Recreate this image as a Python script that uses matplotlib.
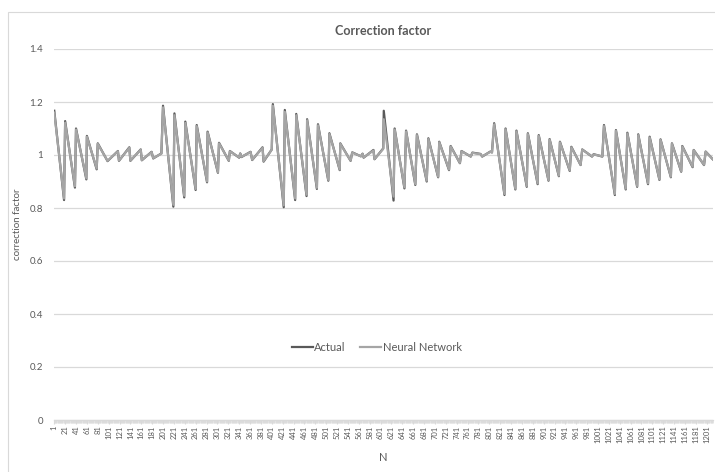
import matplotlib
matplotlib.use('Agg')
import matplotlib.pyplot as plt
from matplotlib.ticker import MultipleLocator
from matplotlib.patches import Rectangle

plt.rcParams.update({'font.family': ['Lato', 'DejaVu Sans'], 'font.size': 8})

# sample index of each turning point of the sawtooth (values between are straight runs)
n_points = [
    1, 19, 21, 39, 41, 60, 61, 79, 81, 99, 118, 120, 139, 141, 160, 162, 180, 183, 198,
    201, 220, 222, 240, 242, 261, 263, 282, 283, 302, 304, 322, 324, 341, 343, 345, 362, 365, 384, 386, 401,
    403, 423, 425, 444, 446, 465, 466, 484, 486, 505, 507, 526, 527, 546, 549, 565, 568, 570, 588, 590, 606,
    607, 625, 627, 645, 648, 665, 668, 686, 689, 707, 709, 727, 730, 747, 750, 767, 770, 785, 788, 803, 806,
    810, 829, 831, 849, 851, 870, 872, 890, 892, 910, 912, 929, 931, 949, 952, 969, 972, 990, 993, 1009,
    1012, 1032, 1034, 1052, 1055, 1073, 1075, 1093, 1096, 1114, 1116, 1135, 1137, 1154, 1156, 1175, 1177,
    1196, 1199, 1212,
]

actual = [
    1.167, 0.830, 1.128, 0.877, 1.100, 0.908, 1.072, 0.946, 1.044, 0.977, 1.015, 0.978, 1.029, 0.978, 1.021, 0.980, 1.012, 0.987, 1.006,
    1.186, 0.805, 1.157, 0.840, 1.126, 0.868, 1.113, 0.897, 1.088, 0.933, 1.046, 0.978, 1.015, 0.990, 1.006, 0.992, 1.012, 0.981, 1.029, 0.975, 1.021,
    1.192, 0.803, 1.170, 0.830, 1.155, 0.845, 1.135, 0.872, 1.116, 0.903, 1.082, 0.943, 1.044, 0.978, 1.010, 0.995, 1.005, 0.990, 1.019, 0.984, 1.025,
    1.167, 0.828, 1.100, 0.874, 1.092, 0.887, 1.078, 0.900, 1.063, 0.916, 1.050, 0.943, 1.034, 0.969, 1.015, 0.994, 1.009, 1.004, 0.994, 1.013, 1.010,
    1.120, 0.849, 1.100, 0.870, 1.092, 0.880, 1.082, 0.890, 1.075, 0.903, 1.060, 0.920, 1.050, 0.940, 1.031, 0.962, 1.021, 0.994, 1.003, 0.994,
    1.113, 0.849, 1.094, 0.870, 1.084, 0.880, 1.078, 0.890, 1.069, 0.906, 1.059, 0.916, 1.044, 0.937, 1.034, 0.954, 1.019,
    0.962, 1.013, 0.984,
]

neural = [
    1.160, 0.836, 1.122, 0.882, 1.096, 0.912, 1.069, 0.949, 1.042, 0.978, 1.014, 0.979, 1.027, 0.979, 1.020, 0.981, 1.011, 0.988, 1.005,
    1.180, 0.812, 1.150, 0.846, 1.121, 0.872, 1.109, 0.900, 1.085, 0.935, 1.044, 0.979, 1.014, 0.991, 1.005, 0.993, 1.011, 0.982, 1.027, 0.977, 1.020,
    1.186, 0.810, 1.163, 0.836, 1.150, 0.850, 1.131, 0.876, 1.112, 0.906, 1.079, 0.945, 1.042, 0.979, 1.009, 0.995, 1.004, 0.991, 1.017, 0.985, 1.023,
    1.135, 0.843, 1.096, 0.878, 1.089, 0.890, 1.075, 0.903, 1.060, 0.918, 1.048, 0.945, 1.032, 0.970, 1.014, 0.995, 1.008, 1.003, 0.995, 1.012, 1.009,
    1.116, 0.853, 1.097, 0.873, 1.089, 0.883, 1.079, 0.893, 1.072, 0.905, 1.058, 0.922, 1.048, 0.942, 1.029, 0.963, 1.020, 0.995, 1.002, 0.995,
    1.109, 0.853, 1.091, 0.873, 1.081, 0.883, 1.075, 0.893, 1.066, 0.908, 1.057, 0.918, 1.042, 0.939, 1.032, 0.956, 1.018,
    0.963, 1.012, 0.985,
]

n_total = 1212
x_tick_labels = list(range(1, 1202, 20))
y_ticks = [0, 0.2, 0.4, 0.6, 0.8, 1.0, 1.2, 1.4]

TXT = '#595959'
GRID = '#D9D9D9'

fig = plt.figure(figsize=(7.15, 4.72), dpi=100)
ax = fig.add_axes([54 / 715, 1 - 420 / 472, 659 / 715, 371 / 472])

ax.plot(n_points, actual, color='#595959', linewidth=1.6, label='Actual', zorder=3)
ax.plot(n_points, neural, color='#A5A5A5', linewidth=1.6, label='Neural Network', zorder=4)

ax.set_xlim(0.5, n_total + 0.5)
ax.set_ylim(0, 1.4)
ax.set_yticks(y_ticks)
ax.set_yticklabels(['0', '0.2', '0.4', '0.6', '0.8', '1', '1.2', '1.4'])
ax.set_xticks(x_tick_labels)
ax.set_xticklabels([str(v) for v in x_tick_labels], rotation=90)
ax.xaxis.set_minor_locator(MultipleLocator(1))

ax.grid(axis='y', color=GRID, linewidth=0.9)
ax.set_axisbelow(True)
for s in ['top', 'right', 'left']:
    ax.spines[s].set_visible(False)
ax.spines['bottom'].set_color(GRID)
ax.spines['bottom'].set_linewidth(0.9)

ax.tick_params(axis='y', length=0, labelsize=7, colors=TXT, pad=8)
ax.tick_params(axis='x', which='major', length=3, color=GRID, labelsize=5.5, labelcolor=TXT, pad=1)
ax.tick_params(axis='x', which='minor', length=2.5, color=GRID, width=0.5)

ax.set_title('Correction factor', fontsize=9, fontweight='bold', color=TXT, pad=10)
ax.set_ylabel('correction factor', fontsize=7, color=TXT)
ax.yaxis.set_label_coords(-0.049, 0.528)
ax.set_xlabel('N', fontsize=8, color=TXT, labelpad=6)

ax.legend(loc='center', bbox_to_anchor=(0.49, 0.196), ncol=2, frameon=False,
          fontsize=8, handlelength=1.9, handletextpad=0.15, columnspacing=1.3,
          labelcolor=TXT)

# chart-area border (only left and top edges fall inside the picture)
fig.patches.append(Rectangle((8 / 715, -0.1), 1.2, 1.1 - 12 / 472,
                             transform=fig.transFigure, fill=False,
                             edgecolor=GRID, linewidth=0.8))

fig.savefig('out.png', dpi=100)
plt.close(fig)
